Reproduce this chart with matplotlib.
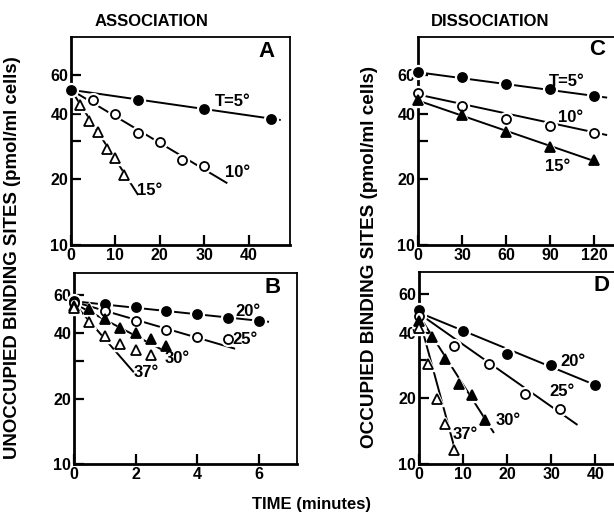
import matplotlib
matplotlib.use("Agg")
import matplotlib.pyplot as plt
from matplotlib.ticker import FixedLocator, NullFormatter

plt.rcParams["font.family"] = ["Liberation Sans", "DejaVu Sans"]
plt.rcParams["font.weight"] = "bold"

# ---- Panel A: association, 5-15 deg (time in minutes) ----
A_t5_x = [0, 15, 30, 45]
A_t5_y = [51.5, 46.4, 42.1, 37.9]
A_10_x = [5, 10, 15, 20, 25, 30]
A_10_y = [46.1, 40.1, 32.7, 29.6, 24.5, 23.0]
A_15_x = [2, 4, 6, 8, 10, 12]
A_15_y = [44.0, 37.2, 32.9, 27.6, 25.0, 20.9]
A_fit_x = {"t5": [0, 47], "10": [0, 35], "15": [0, 15]}
A_fit_y = {"t5": [51.5, 37.5], "10": [51.5, 19.3], "15": [51.5, 17.1]}

# ---- Panel B: association, 20-37 deg ----
B_20_x = [0, 1, 2, 3, 4, 5, 6]
B_20_y = [56.3, 54.9, 52.8, 50.7, 49.3, 46.9, 45.6]
B_25_x = [0, 1, 2, 3, 4, 5]
B_25_y = [55.0, 50.7, 45.6, 41.5, 38.7, 37.6]
B_30_x = [0, 0.5, 1, 1.5, 2, 2.5, 3]
B_30_y = [53.5, 51.6, 46.4, 42.5, 40.3, 37.9, 35.1]
B_37_x = [0, 0.5, 1, 1.5, 2, 2.5]
B_37_y = [52.5, 45.1, 38.9, 35.6, 33.6, 31.8]
B_fit_x = {"20": [0, 6.3], "25": [0, 5.2], "30": [0, 3.06], "37": [0, 1.92]}
B_fit_y = {"20": [56.3, 45.3], "25": [56.0, 34.1], "30": [55.0, 32.5], "37": [55.0, 26.7]}

# ---- Panel C: dissociation, 5-15 deg ----
C_x = [0, 30, 60, 90, 120]
C_t5_y = [62.2, 58.9, 55.0, 52.2, 48.2]
C_10_y = [49.8, 43.3, 38.0, 35.2, 32.6]
C_15_y = [46.1, 39.4, 33.0, 28.2, 24.5]
C_fit_x = {"t5": [0, 128], "10": [0, 128], "15": [0, 122]}
C_fit_y = {"t5": [62.0, 47.5], "10": [49.0, 32.0], "15": [46.0, 24.0]}

# ---- Panel D: dissociation, 20-37 deg ----
D_20_x = [0, 10, 20, 30, 40]
D_20_y = [50.7, 40.8, 32.1, 28.4, 23.0]
D_25_x = [0, 8, 16, 24, 32]
D_25_y = [48.0, 34.8, 28.7, 21.0, 17.9]
D_30_x = [0, 3, 6, 9, 12, 15]
D_30_y = [45.3, 38.3, 30.3, 23.4, 20.7, 16.0]
D_37_x = [0, 2, 4, 6, 8]
D_37_y = [42.2, 28.7, 19.9, 15.3, 11.6]
D_fit_x = {"20": [0, 41], "25": [0, 35.8], "30": [0, 16.9], "37": [0, 8.6]}
D_fit_y = {"20": [49.5, 22.6], "25": [49.0, 15.2], "30": [48.0, 14.0], "37": [47.0, 10.8]}

W, H = 614, 518
fig = plt.figure(figsize=(W / 100, H / 100), dpi=100)


def px_axes(left, top, right, bottom):
    return fig.add_axes([left / W, 1 - bottom / H, (right - left) / W, (bottom - top) / H])


def setup(ax, xlim, ytop, xticks):
    ax.set_yscale("log")
    ax.set_xlim(*xlim)
    ax.set_ylim(10, ytop)
    ax.set_yticks([10, 20, 40, 60], labels=["10", "20", "40", "60"])
    ax.yaxis.set_minor_locator(FixedLocator([30]))
    ax.yaxis.set_minor_formatter(NullFormatter())
    ax.set_xticks(xticks, labels=[str(t) for t in xticks])
    ax.tick_params(which="both", direction="in", length=7, width=1.6,
                   labelsize=11.5, pad=2)
    for s in ("left", "bottom"):
        ax.spines[s].set_linewidth(2.0)
    for s in ("top", "right"):
        ax.spines[s].set_linewidth(1.3)


def series(ax, x, y, marker, filled, ms=6.5):
    ax.plot(x, y, linestyle="none", marker=marker, ms=ms + 3.5, mfc="white",
            mec="white", zorder=3, clip_on=False)
    ax.plot(x, y, linestyle="none", marker=marker, ms=ms,
            mfc="black" if filled else "white", mec="black", mew=1.3,
            zorder=4, clip_on=False)


def fit(ax, xs, ys):
    ax.plot(xs, ys, color="black", lw=1.4, zorder=2)


lab = dict(fontsize=12, fontweight="bold", ha="center", va="center")

# A
axA = px_axes(71, 37, 290, 245)
setup(axA, (0, 49.3), 90, [0, 10, 20, 30, 40])
for k in A_fit_x:
    fit(axA, A_fit_x[k], A_fit_y[k])
series(axA, A_t5_x, A_t5_y, "o", True)
series(axA, A_10_x, A_10_y, "o", False)
series(axA, A_15_x, A_15_y, "^", False)
axA.text(36.5, 45.5, "T=5°", **lab)
axA.text(37.5, 21.5, "10°", **lab)
axA.text(17.8, 17.8, "15°", **lab)
axA.text(44, 77, "A", fontsize=16, ha="center", va="center")

# B
axB = px_axes(74, 273, 297, 464)
setup(axB, (0, 7.24), 76, [0, 2, 4, 6])
for k in B_fit_x:
    fit(axB, B_fit_x[k], B_fit_y[k])
series(axB, B_20_x, B_20_y, "o", True)
series(axB, B_25_x, B_25_y, "o", False)
series(axB, B_30_x, B_30_y, "^", True)
series(axB, B_37_x, B_37_y, "^", False)
axB.text(5.65, 50.5, "20°", **lab)
axB.text(5.55, 37.5, "25°", **lab)
axB.text(3.35, 30.8, "30°", **lab)
axB.text(2.35, 26.5, "37°", **lab)
axB.text(6.45, 65.5, "B", fontsize=16, ha="center", va="center")

# C
axC = px_axes(418, 37, 640, 245)
setup(axC, (0, 151), 90, [0, 30, 60, 90, 120])
for k in C_fit_x:
    fit(axC, C_fit_x[k], C_fit_y[k])
series(axC, C_x, C_t5_y, "o", True)
series(axC, C_x, C_10_y, "o", False)
series(axC, C_x, C_15_y, "^", True)
axC.text(101, 56.0, "T=5°", **lab)
axC.text(103.5, 38.4, "10°", **lab)
axC.text(95, 23.0, "15°", **lab)
axC.text(122, 79, "C", fontsize=16, ha="center", va="center")

# D
axD = px_axes(419, 272, 641, 464)
setup(axD, (0, 50.4), 76, [0, 10, 20, 30, 40])
for k in D_fit_x:
    fit(axD, D_fit_x[k], D_fit_y[k])
series(axD, D_20_x, D_20_y, "o", True)
series(axD, D_25_x, D_25_y, "o", False)
series(axD, D_30_x, D_30_y, "^", True)
series(axD, D_37_x, D_37_y, "^", False)
axD.text(35, 29.5, "20°", **lab)
axD.text(32.5, 21.5, "25°", **lab)
axD.text(20.3, 15.8, "30°", **lab)
axD.text(10.5, 13.6, "37°", **lab)
axD.text(41.5, 66, "D", fontsize=16, ha="center", va="center")

# shared texts
fig.text(152 / W, 1 - 22 / H, "ASSOCIATION", fontsize=12, ha="center", va="center")
fig.text(490 / W, 1 - 22 / H, "DISSOCIATION", fontsize=12, ha="center", va="center")
fig.text(13 / W, 1 - 258 / H, "UNOCCUPIED BINDING SITES (pmol/ml cells)",
         fontsize=13.4, rotation=90, ha="center", va="center")
fig.text(370 / W, 1 - 257 / H, "OCCUPIED BINDING SITES (pmol/ml cells)",
         fontsize=13.6, rotation=90, ha="center", va="center")
fig.text(312 / W, 1 - 505 / H, "TIME (minutes)", fontsize=12, ha="center", va="center")

fig.savefig("out.png", dpi=100)
